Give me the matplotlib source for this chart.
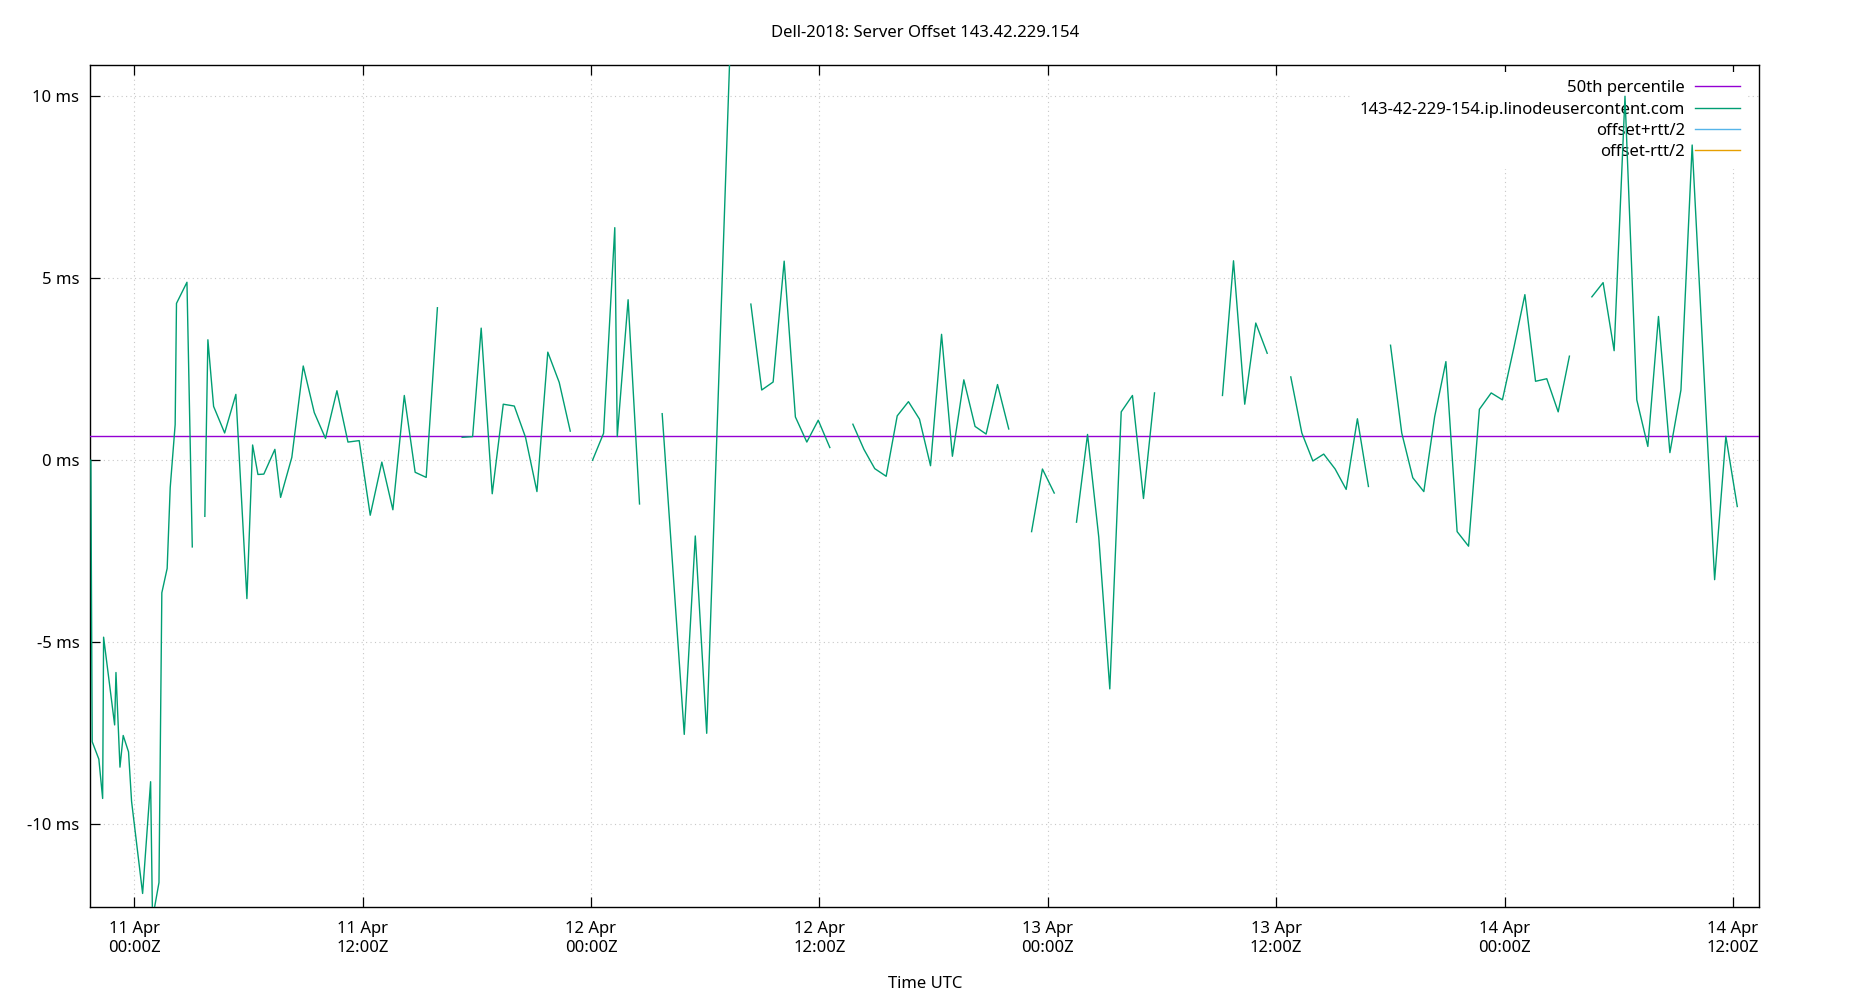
import numpy as np
import pandas as pd
import matplotlib
matplotlib.use("Agg")
import matplotlib.pyplot as plt
import matplotlib.dates as mdates

nan = np.nan

# samples: hours after 11 Apr 00:00 UTC, offset in ms (nan = gap in data)
start = pd.Timestamp("2024-04-11 00:00")
hours = [
    -2.28, -2.21, -1.86, -1.66, -1.61, -1.03, -0.96, -0.75, -0.58, -0.30, -0.14,
    0.44, 0.86, 0.96, 1.30, 1.45, 1.73, 1.89, 2.15, 2.22, 2.77, 3.05, 3.38,
    3.71, 3.87, 4.17, 4.75, 5.34, 5.92, 6.22, 6.50, 6.81, 7.39, 7.69, 8.28, 8.88,
    9.46, 10.05, 10.65, 11.23, 11.82, 12.40, 13.01, 13.59, 14.19, 14.76, 15.34,
    15.93, 16.6,
    17.23, 17.78, 18.23, 18.81, 19.39, 19.97, 20.56, 21.16, 21.73, 22.33, 22.91, 23.5,
    24.08, 24.66, 25.25, 25.38, 25.95, 26.55, 27.1,
    27.74, 28.90, 29.48, 30.08, 31.30, 31.85,
    32.40, 32.97, 33.57, 34.15, 34.74, 35.34, 35.94, 36.55, 37.15,
    37.76, 38.34, 38.91, 39.51, 40.09, 40.68, 41.26, 41.84, 42.42, 42.99, 43.59,
    44.18, 44.76, 45.36, 45.95, 46.5,
    47.15, 47.72, 48.34, 48.9,
    49.51, 50.09, 50.68, 51.26, 51.86, 52.45, 53.03, 53.61, 55.4,
    57.18, 57.76, 58.35, 58.93, 59.53, 60.1,
    60.77, 61.35, 61.93, 62.50, 63.10, 63.68, 64.27, 64.85, 65.4,
    66.01, 66.60, 67.18, 67.76, 68.33, 68.92, 69.51, 70.11, 70.68, 71.30, 71.89,
    72.49, 73.07, 73.63, 74.22, 74.82, 75.41, 76.0,
    76.59, 77.18, 77.76, 78.33, 78.95, 79.53, 80.09, 80.69, 81.27, 81.86, 83.04,
    83.63, 84.23,
]
offset_ms = [
    0.0, -7.73, -8.21, -9.29, -4.86, -7.27, -5.83, -8.43, -7.56, -8.01, -9.37,
    -11.90, -8.83, -12.6, -11.60, -3.64, -2.97, -0.75, 0.98, 4.31, 4.89, -2.38, nan,
    -1.54, 3.31, 1.48, 0.75, 1.81, -3.80, 0.42, -0.39, -0.38, 0.30, -1.02, 0.08, 2.59,
    1.31, 0.60, 1.91, 0.50, 0.54, -1.51, -0.05, -1.36, 1.78, -0.33, -0.47,
    4.19, nan,
    0.63, 0.65, 3.63, -0.92, 1.54, 1.49, 0.63, -0.86, 2.97, 2.14, 0.80, nan,
    0.0, 0.74, 6.39, 0.65, 4.41, -1.20, nan,
    1.28, -7.53, -2.08, -7.50, 11.2, nan,
    4.29, 1.93, 2.15, 5.47, 1.19, 0.50, 1.10, 0.35, nan,
    0.99, 0.30, -0.23, -0.44, 1.22, 1.61, 1.13, -0.15, 3.46, 0.11, 2.21,
    0.93, 0.72, 2.08, 0.86, nan,
    -1.96, -0.24, -0.90, nan,
    -1.70, 0.71, -2.11, -6.28, 1.33, 1.78, -1.05, 1.85, nan,
    1.78, 5.48, 1.54, 3.77, 2.94, nan,
    2.29, 0.75, -0.02, 0.17, -0.24, -0.80, 1.14, -0.72, nan,
    3.16, 0.75, -0.48, -0.86, 1.20, 2.71, -1.96, -2.36, 1.40, 1.85, 1.66,
    3.09, 4.55, 2.17, 2.24, 1.33, 2.86, nan,
    4.49, 4.88, 3.01, 10.0, 1.66, 0.38, 3.95, 0.21, 1.93, 8.66, -3.28,
    0.66, -1.27,
]
p50_ms = 0.66

times = start + pd.to_timedelta(hours, unit="h")

plt.rcParams['font.family'] = ['Noto Sans', 'DejaVu Sans']
plt.rcParams['font.size'] = 12

fig = plt.figure(figsize=(18.5, 10), dpi=100)
ax = fig.add_axes([0.0489, 0.0927, 0.9021, 0.842])

ax.axhline(p50_ms, color='#9400d3', lw=1.0, label='50th percentile', zorder=3)
ax.plot(times, offset_ms, color='#009e73', lw=1.0,
        label='143-42-229-154.ip.linodeusercontent.com', zorder=3)
ax.plot([], [], color='#56b4e9', lw=1.0, label='offset+rtt/2')
ax.plot([], [], color='#e69f00', lw=1.0, label='offset-rtt/2')

ax.set_xlim(start + pd.Timedelta(hours=-2.30), start + pd.Timedelta(hours=85.39))
ax.set_ylim(-12.28, 10.85)

ax.xaxis.set_major_locator(mdates.HourLocator(byhour=[0, 12]))
ax.xaxis.set_major_formatter(mdates.DateFormatter('%d %b\n%H:%MZ'))
ax.set_yticks([-10, -5, 0, 5, 10])
ax.set_yticklabels([f"{v} ms" for v in [-10, -5, 0, 5, 10]])

ax.tick_params(axis='x', direction='in', length=7, width=0.9, top=True, pad=10)
ax.tick_params(axis='y', direction='in', length=7, width=0.9, right=False, pad=8)
ax.set_axisbelow(True)
ax.grid(True, color='#c8c8c8', linestyle=(0, (1, 3)), lw=0.8)
for s in ax.spines.values():
    s.set_linewidth(1.0)

leg = ax.legend(loc='upper right', bbox_to_anchor=(0.9973, 1.0),
                markerfirst=False, frameon=True,
                facecolor='white', edgecolor='none', framealpha=1, fancybox=False,
                handlelength=2.7, handletextpad=0.6, labelspacing=0.32,
                borderaxespad=0.4, borderpad=0.5)
leg.set_zorder(2.5)

fig.text(0.5, 1 - 33 / 1000, 'Dell-2018: Server Offset 143.42.229.154',
         ha='center', va='center')
fig.text(0.5, 1 - 984 / 1000, 'Time UTC', ha='center', va='center')

fig.savefig('out.png', dpi=100)
